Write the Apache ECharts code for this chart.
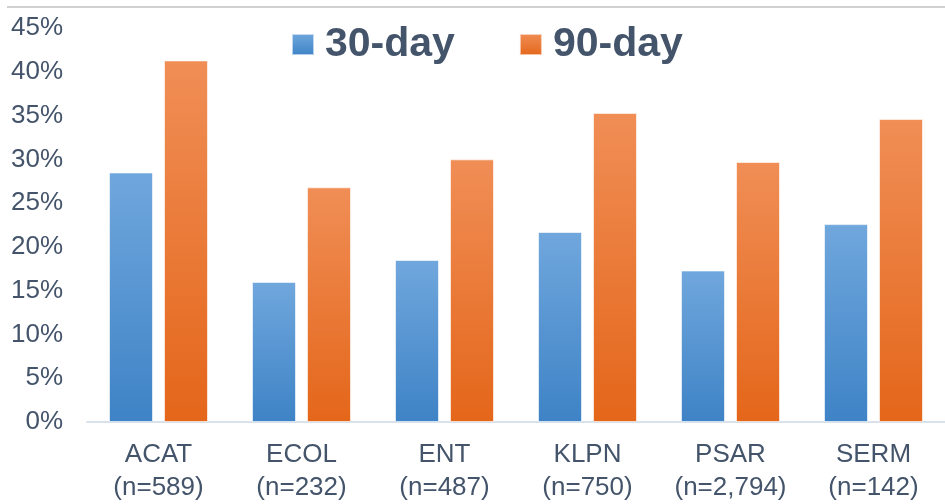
<!DOCTYPE html>
<html>
<head>
<meta charset="utf-8">
<script src="https://cdn.jsdelivr.net/npm/echarts@6/dist/echarts.min.js"></script>
<style>
  html, body { margin: 0; padding: 0; background: #ffffff; }
  #chart { width: 945px; height: 504px; }
</style>
</head>
<body>
<div id="chart"></div>
<script>
// Organisms with sample sizes
const categories = ['ACAT\n(n=589)', 'ECOL\n(n=232)', 'ENT\n(n=487)', 'KLPN\n(n=750)', 'PSAR\n(n=2,794)', 'SERM\n(n=142)'];
// Rates in percent
const day30 = [28.5, 16.0, 18.5, 21.7, 17.3, 22.6];
const day90 = [41.3, 26.8, 30.0, 35.3, 29.7, 34.6];
const seriesNames = ['30-day', '90-day'];

const FONT = 'Arial, "Liberation Sans", sans-serif';
const TEXT = '#44546a';

function grad(top, bottom) {
  return new echarts.graphic.LinearGradient(0, 0, 0, 1, [
    { offset: 0, color: top },
    { offset: 1, color: bottom }
  ]);
}

const chart = echarts.init(document.getElementById('chart'), null, { renderer: 'canvas' });
chart.setOption({
  animation: false,
  backgroundColor: '#ffffff',
  textStyle: { fontFamily: FONT },
  graphic: [{
    type: 'line',
    shape: { x1: 7, y1: 7, x2: 945, y2: 7 },
    style: { stroke: '#d0d0d0', lineWidth: 2 }
  }],
  legend: {
    left: 291,
    top: 24,
    padding: 0,
    itemWidth: 22,
    itemHeight: 21,
    itemGap: 64,
    icon: 'rect',
    data: seriesNames,
    textStyle: {
      fontFamily: FONT,
      fontSize: 41,
      fontWeight: 'bold',
      color: TEXT,
      padding: [0, 0, 0, 6]
    }
  },
  grid: { left: 87, top: 28, width: 866, height: 396, containLabel: false },
  xAxis: {
    type: 'category',
    data: categories,
    axisLine: { lineStyle: { color: '#d9e1ea', width: 2 } },
    axisTick: { show: false },
    axisLabel: {
      interval: 0,
      margin: 16,
      fontFamily: FONT,
      fontSize: 26,
      lineHeight: 33,
      color: TEXT
    }
  },
  yAxis: {
    type: 'value',
    min: 0,
    max: 45,
    interval: 5,
    axisLine: { show: false },
    axisTick: { show: false },
    splitLine: { show: false },
    axisLabel: {
      margin: 24,
      fontFamily: FONT,
      fontSize: 26,
      color: TEXT,
      formatter: v => v + '%'
    }
  },
  series: [
    {
      name: seriesNames[0],
      type: 'bar',
      data: day30,
      barWidth: 44,
      barGap: '25%',
      itemStyle: {
        color: grad('#70a7dd', '#3e83c6'),
        borderColor: 'rgba(255,255,255,0.6)',
        borderWidth: 1
      }
    },
    {
      name: seriesNames[1],
      type: 'bar',
      data: day90,
      barWidth: 44,
      itemStyle: {
        color: grad('#f08e56', '#e4661a'),
        borderColor: 'rgba(255,255,255,0.6)',
        borderWidth: 1
      }
    }
  ]
});
</script>
</body>
</html>
